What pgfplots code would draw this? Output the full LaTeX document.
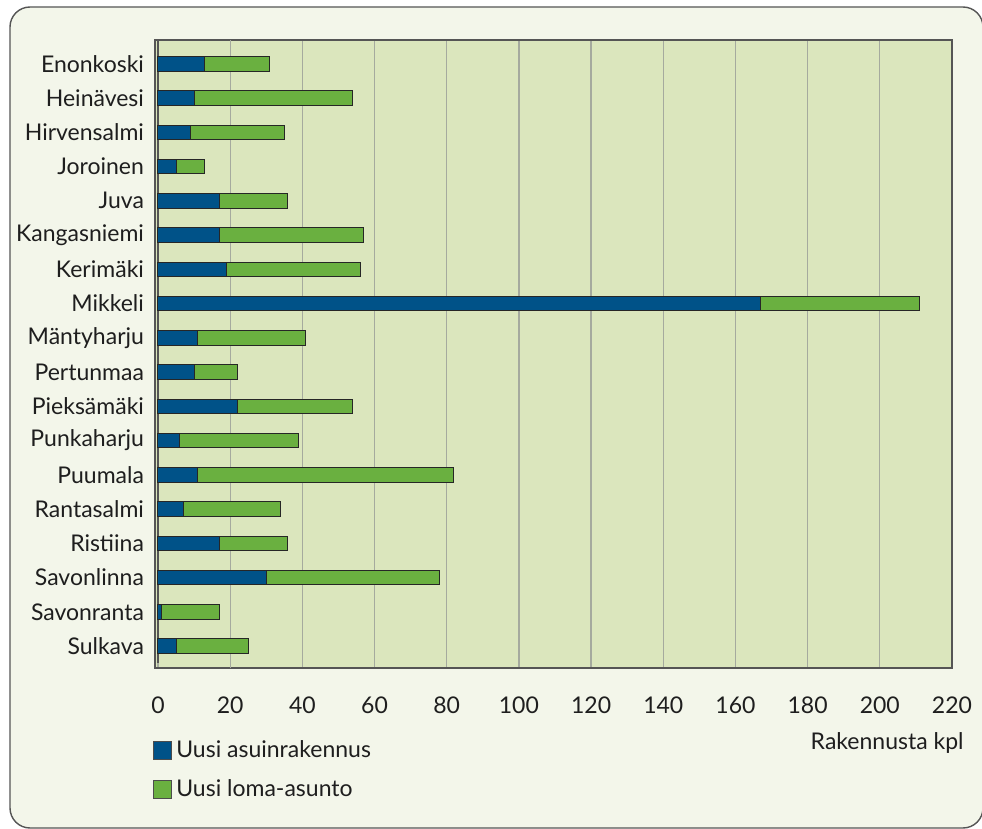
\documentclass[border=0pt]{standalone}
\usepackage{pgfplots}
\pgfplotsset{compat=1.18}
\usepackage{pgfplotstable}
\usepackage{fontspec}
\setmainfont{Lato}

\definecolor{bluebar}{RGB}{0,82,136}
\definecolor{greenbar}{RGB}{106,176,64}
\definecolor{plotbg}{RGB}{219,230,189}
\definecolor{panel}{RGB}{243,246,234}
\definecolor{gridgray}{RGB}{165,170,158}
\definecolor{framegray}{RGB}{85,85,85}
\definecolor{txt}{RGB}{30,30,30}

% New buildings per municipality: residential (blue) and holiday homes (green)
\pgfplotstableread{
y  blue green
0  13   18
1  10   44
2  9    26
3  5    8
4  17   19
5  17   40
6  19   37
7  167  44
8  11   30
9  10   12
10 22   32
11 6    33
12 11   71
13 7    27
14 17   19
15 30   48
16 1    16
17 5    20
}\builddata

\begin{document}
\begin{tikzpicture}
\clip (0,0) rectangle (491pt,-414.5pt);
\draw[rounded corners=10pt, fill=panel, draw=framegray, line width=0.7pt]
  (5pt,-3.5pt) rectangle (491.5pt,-414pt);
\begin{axis}[
  at={(77.5pt,-20pt)}, anchor=north west,
  scale only axis, width=398.5pt, height=314pt,
  xbar stacked, bar width=7.25pt,
  xmin=-0.83, xmax=220, ymin=-0.695, ymax=17.64, y dir=reverse,
  axis background/.style={fill=plotbg},
  axis line style={framegray, line width=0.7pt},
  font=\fontsize{11.5}{13}\selectfont, text=txt,
  /pgf/number format/assume math mode=true,
  xtick={0,40,60,...,220},
  extra x ticks={20},
  extra x tick style={grid style={greenbar, line width=0.6pt}},
  xmajorgrids, major grid style={gridgray, line width=0.6pt},
  xtick style={draw=none},
  xticklabel style={yshift=-11pt},
  ytick={0,...,17},
  yticklabels={Enonkoski,Heinävesi,Hirvensalmi,Joroinen,Juva,Kangasniemi,Kerimäki,Mikkeli,Mäntyharju,Pertunmaa,Pieksämäki,Punkaharju,Puumala,Rantasalmi,Ristiina,Savonlinna,Savonranta,Sulkava},
  ytick style={draw=none},
  yticklabel style={xshift=-2pt},
  minor ytick={-0.5,0.5,...,17.5},
  minor tick style={framegray, line width=0.6pt},
  minor tick length=1.6pt, tick align=inside,
  legend style={draw=none, fill=none, at={(rel axis cs:0,0)}, anchor=north west,
    xshift=-1pt, yshift=-34pt, row sep=5.5pt, inner sep=0pt,
    nodes={inner sep=2pt, text=txt}},
  legend cell align=left,
]
\addplot[fill=bluebar, draw=black!85, line width=0.5pt,
  legend image code/.code={\draw[fill=bluebar, draw=black!70, line width=0.5pt] (0pt,-4.5pt) rectangle (9pt,4.5pt);}]
  table[x=blue, y=y] {\builddata};
\addlegendentry{Uusi asuinrakennus}
\addplot[fill=greenbar, draw=black!85, line width=0.5pt,
  legend image code/.code={\draw[fill=greenbar, draw=black!70, line width=0.5pt] (0pt,-4.5pt) rectangle (9pt,4.5pt);}]
  table[x=green, y=y] {\builddata};
\addlegendentry{Uusi loma-asunto}
\draw[framegray, line width=0.7pt] (axis cs:0,-0.695) -- (axis cs:0,17.5);
\end{axis}
\node[anchor=east, inner sep=0pt, text=txt, font=\fontsize{11.5}{13}\selectfont]
  at (482pt,-371.5pt) {Rakennusta kpl};
\end{tikzpicture}
\end{document}
